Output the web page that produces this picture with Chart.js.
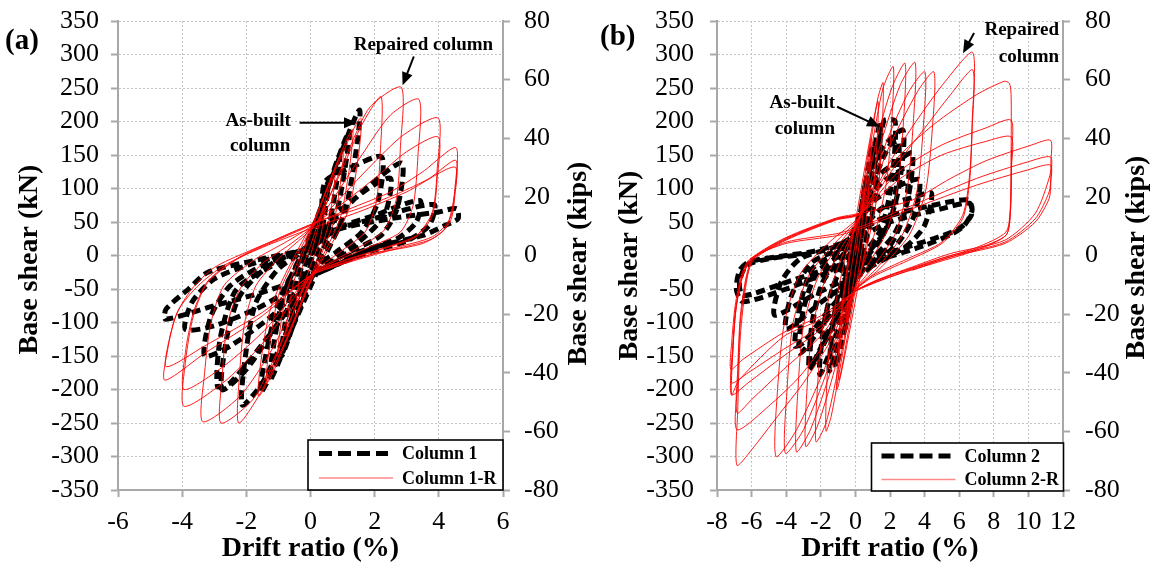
<!DOCTYPE html>
<html><head><meta charset="utf-8">
<script src="https://cdn.jsdelivr.net/npm/chart.js@4.4.1/dist/chart.umd.min.js"></script>
<style>html,body{margin:0;padding:0;background:#fff}#wrap{position:relative;width:1160px;height:571px;overflow:hidden;background:#fff}canvas{position:absolute;top:0}</style>
</head><body><div id="wrap"><canvas id="ca" width="600" height="571" style="left:0"></canvas><canvas id="cb" width="580" height="571" style="left:580px"></canvas></div>
<script>
// ---- tick labels ----
const driftTicksA = [-6,-4,-2,0,2,4,6];
const driftTicksB = [-8,-6,-4,-2,0,2,4,6,8,10,12];
const shearTicksKN = [-350,-300,-250,-200,-150,-100,-50,0,50,100,150,200,250,300,350];
const shearTicksKips = [-80,-60,-40,-20,0,20,40,60,80];
const seriesNamesA = ['Column 1','Column 1-R'];
const seriesNamesB = ['Column 2','Column 2-R'];

// ---- series: [drift %, base shear kN] ----
const col1 = [
[0,0],[0.3,60],[0.2,20],[0,-10],[-0.3,-60],[-0.2,-20],[0,10],
[0.55,110],[0.35,35],[0,-15],[-0.6,-110],[-0.4,-35],[0,15],
[0.9,150],[0.6,50],[0.05,-20],[-0.9,-150],[-0.6,-50],[-0.05,20],
[1.2,185],[0.8,60],[0.1,-25],[-1.25,-185],[-0.85,-60],[-0.05,25],
[1.52,217],[1.1,70],[0.2,-25],[-1.55,-205],[-1.0,-70],[0,20],
[0.3,40],[0.45,110],[1.2,130],[2.22,147],[2.1,80],[1.6,35],[0.8,5],[0,-25],
[-0.8,-120],[-1.5,-190],[-2.13,-223],[-2.0,-140],[-1.7,-70],[-1.0,-20],[0,15],
[0.4,45],[1.8,100],[2.5,115],[2.3,60],[1.5,20],[0.2,-25],
[-1.3,-120],[-2.5,-190],[-2.9,-195],[-2.8,-120],[-2.3,-50],[-1.0,-10],[0,15],
[0.5,40],[1.5,90],[2.84,138],[2.7,70],[2.2,30],[1.2,5],[0.2,-25],
[-1.0,-100],[-2.0,-170],[-2.76,-200],[-2.6,-120],[-2.2,-60],[-1.3,-15],[0,15],
[0.5,35],[2.0,60],[3.41,82],[3.3,50],[2.7,25],[1.5,5],[0.2,-25],
[-1.2,-90],[-2.5,-135],[-3.3,-150],[-3.1,-90],[-2.5,-45],[-1.5,-15],[0,12],
[0.6,35],[2.2,58],[3.85,76],[3.7,45],[3.0,22],[1.8,5],[0.3,-25],
[-1.5,-75],[-3.0,-105],[-3.9,-110],[-3.7,-70],[-3.0,-35],[-1.8,-12],[0,12],
[0.8,38],[2.5,55],[4.0,65],[4.55,70],[4.6,55],[4.2,45],[3.5,30],[2.0,12],[0.3,-25],
[-1.5,-55],[-3.0,-75],[-4.52,-95],[-4.5,-80],[-3.8,-50],[-3.2,-25],[-1.8,-8],[0,10]
];
const col1R = [
[0,0],[0.45,75],[0.3,25],[0,-15],[-0.45,-75],[-0.3,-25],[0,15],
[0.75,120],[0.55,45],[0.1,-20],[-0.75,-120],[-0.55,-45],[-0.1,20],
[1.0,155],[0.75,55],[0.1,-25],[-1.0,-150],[-0.75,-55],[-0.1,25],
[1.3,188],[0.95,60],[0.1,-28],[-1.35,-190],[-1.0,-60],[-0.1,30],
[1.55,205],[1.2,70],[0.1,-30],[-1.6,-210],[-1.25,-80],[-0.1,35],
[0.2,50],[1.0,130],[1.6,195],[2.2,237],[2.17,150],[2.05,80],[1.7,35],[1.0,8],[0,-30],
[-0.9,-130],[-1.5,-200],[-2.24,-250],[-2.2,-170],[-2.05,-100],[-1.7,-45],[-1.0,-5],[0.2,50],
[1.23,162],[1.86,222],[2.83,251],[2.8,160],[2.68,85],[2.3,38],[1.5,12],[0.7,-8],[0,-30],
[-1.1,-150],[-1.8,-215],[-2.79,-250],[-2.75,-180],[-2.6,-105],[-2.2,-50],[-1.5,-12],[-0.6,18],[0.2,50],
[1.6,150],[2.5,210],[3.38,233],[3.35,150],[3.2,75],[2.8,35],[1.8,12],[0.8,-8],[0,-30],
[-1.2,-140],[-2.2,-210],[-3.36,-248],[-3.3,-175],[-3.1,-100],[-2.7,-45],[-1.8,-8],[-0.7,22],[0.2,50],
[1.8,130],[2.9,180],[3.98,205],[3.95,130],[3.8,65],[3.3,30],[2.2,10],[1.0,-8],[0,-30],
[-1.3,-120],[-2.6,-185],[-3.94,-225],[-3.9,-160],[-3.65,-90],[-3.2,-40],[-2.2,-3],[-0.8,28],[0.2,50],
[2.0,115],[3.0,155],[3.98,177],[3.95,115],[3.8,60],[3.3,28],[2.2,9],[1.0,-9],[0,-30],
[-1.4,-110],[-2.7,-165],[-3.94,-200],[-3.9,-145],[-3.65,-85],[-3.2,-38],[-2.2,-2],[-0.8,30],[0.2,50],
[1.5,75],[2.5,95],[3.5,125],[4.53,161],[4.5,100],[4.35,55],[3.8,28],[2.5,10],[1.2,-8],[0,-30],
[-1.5,-90],[-3.3,-146],[-4.54,-186],[-4.45,-140],[-4.2,-90],[-3.7,-50],[-3.0,-18],[-2.0,5],[-1.0,25],[0.2,50],
[1.5,70],[2.7,92],[3.7,115],[4.53,142],[4.5,90],[4.35,50],[3.8,25],[2.5,8],[1.2,-10],[0,-30],
[-1.5,-85],[-3.3,-135],[-4.49,-166],[-4.4,-125],[-4.1,-80],[-3.5,-45],[-2.7,-15],[-1.5,12],[0,40],
[1.5,65],[3.0,95],[4.5,132],[4.45,80],[4.2,40],[3.5,18],[2.0,3],[0.5,-20]
];
const col2 = [
[0,0],[0.3,60],[0.2,20],[0,-15],[-0.3,-60],[-0.2,-20],[0,15],
[0.6,110],[0.4,40],[0,-20],[-0.6,-110],[-0.4,-40],[0,20],
[1.0,165],[0.7,60],[0,-30],[-1.12,-166],[-0.8,-60],[0,20],
[1.45,200],[1.2,100],[0.8,40],[0,-30],[-1.5,-172],[-1.1,-70],[0,20],
[1.5,185],[1.7,202],[2.3,200],[2.1,110],[1.5,40],[0.5,0],[-1.0,-110],[-2.06,-178],[-1.8,-100],[-1.2,-40],[0,20],
[1.3,150],[2.75,187],[2.5,100],[1.8,40],[0.5,-5],[-1.5,-110],[-2.6,-165],[-2.4,-90],[-1.7,-30],[0,18],
[1.2,120],[2.0,165],[2.5,170],[2.3,90],[1.6,30],[0.3,-15],[-1.2,-100],[-2.4,-160],[-2.7,-170],[-2.5,-100],[-1.9,-40],[-0.5,10],
[1.0,110],[2.4,140],[3.3,153],[3.0,80],[2.2,30],[0.8,-10],[-1.5,-90],[-3.22,-146],[-3.0,-80],[-2.2,-25],[-0.5,10],
[1.2,100],[2.8,130],[3.1,128],[2.8,60],[2.0,15],[0.5,-20],[-1.8,-90],[-3.0,-130],[-3.5,-135],[-3.2,-75],[-2.5,-20],[-0.8,10],
[1.0,80],[2.6,105],[3.7,113],[3.4,60],[2.5,20],[1.0,-15],[-2.0,-70],[-4.0,-110],[-3.7,-60],[-2.5,-10],[-0.5,15],
[1.5,70],[3.5,88],[4.4,93],[4.0,45],[3.0,15],[1.0,-15],[-2.5,-60],[-4.67,-89],[-4.3,-40],[-3.2,-5],[-1.0,15],
[1.5,55],[4.5,75],[6.5,83],[6.75,68],[6.3,45],[5.64,33],[4.0,15],[1.5,-5],[-1.5,-25],[-4.0,-50],[-6.5,-69],[-6.88,-51],[-6.69,-22],[-6.11,-9],[-4.0,0],[-2.45,6],[0,25],
[2.0,50],[5.0,70],[6.6,78],[6.7,60],[6.0,40],[4.5,25],[2.0,5],[-1.0,-15],[-4.0,-40],[-6.5,-60],[-6.7,-40],[-6.3,-15],[-5.0,-5],[-2.5,3]
];
const col2R = [
[0,0],[0.5,100],[0.35,40],[0,-20],[-0.5,-100],[-0.35,-40],[0,20],
[0.9,175],[0.65,60],[0.1,-35],[-0.95,-186],[-0.7,-70],[-0.1,35],
[1.3,230],[1.0,80],[0.2,-40],[-1.06,-200],[-0.8,-80],[-0.1,40],
[0.3,60],[0.9,170],[1.3,235],[1.6,258],[1.55,190],[1.35,105],[0.9,40],[0.4,-15],[-0.1,-55],
[-0.9,-170],[-1.4,-240],[-1.7,-262],[-1.65,-190],[-1.4,-110],[-0.9,-40],[-0.4,15],[0.3,60],
[1.0,170],[1.6,250],[2.19,282],[2.1,200],[1.8,110],[1.2,40],[0.5,-10],[-0.1,-55],
[-1.0,-170],[-1.7,-250],[-2.28,-278],[-2.2,-200],[-1.9,-110],[-1.3,-40],[-0.6,10],[0.3,60],
[1.2,170],[2.1,250],[2.87,287],[2.78,200],[2.45,105],[1.8,35],[0.7,-15],[-0.1,-55],
[-1.2,-170],[-2.2,-255],[-2.87,-285],[-2.8,-200],[-2.5,-110],[-1.8,-40],[-0.8,12],[0.3,60],
[1.5,170],[2.6,255],[3.45,288],[3.35,200],[3.0,100],[2.3,32],[1.0,-18],[-0.1,-55],
[-1.4,-170],[-2.6,-260],[-3.41,-293],[-3.32,-200],[-3.0,-105],[-2.2,-35],[-1.0,15],[0.3,60],
[1.8,170],[3.1,245],[4.02,274],[3.92,190],[3.55,95],[2.7,30],[1.2,-20],[-0.1,-55],
[-1.6,-170],[-3.0,-260],[-4.05,-295],[-3.95,-200],[-3.6,-100],[-2.7,-30],[-1.2,18],[0.3,60],
[2.0,165],[3.6,245],[4.54,274],[4.45,190],[4.05,95],[3.1,30],[1.4,-20],[-0.1,-55],
[-1.8,-170],[-3.4,-260],[-4.59,-300],[-4.5,-200],[-4.1,-100],[-3.2,-28],[-1.5,20],[0.3,60],
[2.0,140],[3.5,200],[5.2,260],[6.78,303],[6.75,200],[6.6,120],[6.2,60],[5.0,20],[3.0,-5],[1.0,-30],[-0.1,-55],
[-1.5,-130],[-3.0,-190],[-4.5,-240],[-6.0,-290],[-6.85,-313],[-6.8,-230],[-6.65,-120],[-6.3,-40],[-5.9,-7],[-4.0,23],[-1.1,53],[0.3,62],
[2.2,130],[4.0,190],[5.5,240],[6.78,277],[6.75,190],[6.6,110],[6.2,55],[5.0,18],[3.0,-8],[1.0,-32],[-0.1,-55],
[-1.6,-125],[-3.2,-180],[-4.8,-220],[-6.84,-260],[-6.8,-190],[-6.65,-100],[-6.3,-35],[-5.9,-5],[-4.0,24],[-1.1,54],[0.3,63],
[2.3,142],[4.5,195],[7.0,240],[8.6,260],[8.9,257],[9.0,240],[9.0,150],[8.95,60],[8.7,30],[7.0,10],[4.5,-10],[2.0,-30],[-0.1,-55],
[-2.0,-120],[-4.15,-170],[-6.0,-215],[-6.84,-235],[-6.8,-170],[-6.65,-90],[-6.3,-30],[-5.9,-4],[-4.0,25],[-1.1,55],[0.3,63],
[2.5,125],[5.0,165],[7.5,190],[9.0,202],[9.02,150],[8.95,70],[8.7,35],[7.0,12],[4.5,-8],[2.0,-30],[-0.1,-55],
[-2.0,-110],[-4.15,-150],[-6.2,-190],[-7.17,-208],[-7.1,-150],[-6.9,-80],[-6.5,-30],[-5.9,-3],[-4.0,26],[-1.1,55],[0.3,63],
[2.6,115],[5.0,150],[7.5,170],[9.0,177],[9.02,130],[8.95,60],[8.7,30],[7.0,8],[4.5,-12],[2.0,-32],[-0.1,-55],
[-2.0,-105],[-4.15,-140],[-6.2,-175],[-7.15,-190],[-7.1,-140],[-6.9,-75],[-6.5,-28],[-5.9,-2],[-4.0,27],[-1.1,56],[0.3,63],
[3.3,83],[5.5,115],[7.6,142],[10.2,165],[11.28,172],[11.3,140],[11.25,120],[10.4,63],[8.65,23],[5.5,3],[3.3,-17],[1.2,-37],[-0.1,-55],
[-2.0,-95],[-4.15,-121],[-6.73,-186],[-7.15,-208],[-7.12,-160],[-6.95,-90],[-6.6,-35],[-6.1,-7],[-4.0,20],[-1.0,33],[0.5,45],
[3.3,75],[7.0,115],[10.0,140],[11.28,147],[11.3,120],[11.2,95],[10.4,55],[8.65,20],[5.5,0],[3.3,-20],[1.2,-40],[-0.1,-55],
[-2.0,-90],[-4.15,-115],[-6.5,-155],[-7.2,-170],[-7.15,-130],[-6.95,-75],[-6.6,-30],[-6.1,-5],[-4.0,18],[-1.0,30],[0.5,42],
[3.3,70],[7.0,105],[10.0,128],[11.28,135],[11.3,110],[11.2,85],[10.4,50],[8.65,18],[5.5,-2],[3.3,-22]
];

Chart.defaults.font.family = "'Liberation Serif','Times New Roman',serif";
Chart.defaults.color = '#000';
const GRID = '#c4c4c4', AXIS = '#a8a8a8', RED = 'rgba(255,0,0,0.9)';
const SERIF = "'Liberation Serif','Times New Roman',serif";

function toXY(a){ return a.map(p => ({x:p[0], y:p[1]})); }
function fixedTicks(arr){ return s => { s.ticks = arr.map(v => ({value:v})); }; }
function fixW(w){ return s => { s.width = w; s.paddingTop = 0; s.paddingBottom = 0; }; }
function fixH(h){ return s => { s.height = h; s.paddingLeft = 0; s.paddingRight = 0; }; }

function makeScales(xT, g){
  const gridOpt = {color:GRID, lineWidth:1, tickLength:7, tickColor:AXIS, tickWidth:2, tickBorderDash:[]};
  const borderOpt = {display:true, color:AXIS, width:2, dash:[2,2]};
  return {
    x:{type:'linear', position:'bottom', min:xT[0], max:xT[xT.length-1], afterBuildTicks:fixedTicks(xT),
       afterFit:fixH(g.bottom),
       ticks:{font:{size:26}, padding:g.xpad, autoSkip:false, maxRotation:0, callback:v=>String(v)},
       grid:gridOpt, border:borderOpt},
    y:{type:'linear', position:'left', min:shearTicksKN[0], max:shearTicksKN[shearTicksKN.length-1], afterBuildTicks:fixedTicks(shearTicksKN),
       afterFit:fixW(g.left),
       ticks:{font:{size:26}, padding:g.lpad, autoSkip:false, callback:v=>String(v)},
       grid:gridOpt, border:borderOpt},
    y2:{type:'linear', position:'right', min:shearTicksKips[0], max:shearTicksKips[shearTicksKips.length-1], afterBuildTicks:fixedTicks(shearTicksKips),
       afterFit:fixW(g.right),
       ticks:{font:{size:26}, padding:g.rpad, autoSkip:false, callback:v=>String(v)},
       grid:{drawOnChartArea:false, tickLength:7, tickColor:AXIS, tickWidth:2, tickBorderDash:[]},
       border:{display:true, color:AXIS, width:2}}
  };
}

function arrow(ctx,x1,y1,x2,y2){
  const a = Math.atan2(y2-y1,x2-x1), L=13, W=5.5;
  ctx.save(); ctx.strokeStyle='#000'; ctx.fillStyle='#000'; ctx.lineWidth=2;
  ctx.beginPath(); ctx.moveTo(x1,y1); ctx.lineTo(x2-L*0.8*Math.cos(a), y2-L*0.8*Math.sin(a)); ctx.stroke();
  ctx.beginPath(); ctx.moveTo(x2,y2);
  ctx.lineTo(x2-L*Math.cos(a)+W*Math.sin(a), y2-L*Math.sin(a)-W*Math.cos(a));
  ctx.lineTo(x2-L*Math.cos(a)-W*Math.sin(a), y2-L*Math.sin(a)+W*Math.cos(a));
  ctx.closePath(); ctx.fill(); ctx.restore();
}

function extras(c){
  return {id:'extras', afterDraw(chart){
    const ctx = chart.ctx, ca = chart.chartArea, sx = chart.scales.x, sy = chart.scales.y;
    const X = v => sx.getPixelForValue(v), Y = v => sy.getPixelForValue(v);
    ctx.save();
    ctx.fillStyle = '#000';
    ctx.font = 'bold 28px ' + SERIF; ctx.textAlign='center'; ctx.textBaseline='middle';
    ctx.fillText('Drift ratio (%)', (ca.left+ca.right)/2, c.xTitleY);
    const mid = (ca.top+ca.bottom)/2;
    [[c.lTitleX,c.lTitleDy,'Base shear (kN)'],[c.rTitleX,c.rTitleDy,'Base shear (kips)']].forEach(([tx,dy,t])=>{
      ctx.save(); ctx.translate(tx, mid+dy); ctx.rotate(-Math.PI/2); ctx.fillText(t,0,0); ctx.restore();
    });
    ctx.font = 'bold 29px ' + SERIF; ctx.textAlign='left';
    ctx.fillText(c.label, c.labelX, c.labelY);
    ctx.font = 'bold 19px ' + SERIF;
    c.notes.forEach(n=>{ ctx.textAlign=n.align; ctx.fillText(n.text, X(n.x), Y(n.y)); });
    c.arrows.forEach(a=>arrow(ctx, X(a[0]),Y(a[1]),X(a[2]),Y(a[3])));
    const L = c.legend, bx = ca.right + L.dx - L.w, by = ca.bottom + L.dy - L.h;
    ctx.fillStyle='#fff'; ctx.fillRect(bx,by,L.w,L.h);
    ctx.strokeStyle='#000'; ctx.lineWidth=1.6; ctx.strokeRect(bx,by,L.w,L.h);
    const r1 = by + L.h*0.27, r2 = by + L.h*0.76;
    ctx.save(); ctx.strokeStyle='#000'; ctx.lineWidth=5; ctx.setLineDash([13,6]);
    ctx.beginPath(); ctx.moveTo(bx+L.l1, r1); ctx.lineTo(bx+L.l2, r1); ctx.stroke(); ctx.restore();
    ctx.save(); ctx.strokeStyle='#ff8a8a'; ctx.lineWidth=1.6;
    ctx.beginPath(); ctx.moveTo(bx+L.l1, r2); ctx.lineTo(bx+L.l2+5, r2); ctx.stroke(); ctx.restore();
    ctx.fillStyle='#000'; ctx.font='bold 18px ' + SERIF; ctx.textAlign='left'; ctx.textBaseline='middle';
    ctx.fillText(c.names[0], bx+L.tx, r1+1); ctx.fillText(c.names[1], bx+L.tx, r2+1);
    ctx.restore();
  }};
}

function build(id, red, black, xT, g, c){
  return new Chart(document.getElementById(id), {
    type:'scatter',
    data:{datasets:[
      {label:c.names[1], data:toXY(red), showLine:true, borderColor:RED, borderWidth:1, pointRadius:0, tension:0.25, fill:false, order:0},
      {label:c.names[0], data:toXY(black), showLine:true, borderColor:'#000', borderWidth:5, borderDash:[9,5], pointRadius:0, tension:0.25, fill:false, order:1}
    ]},
    options:{responsive:false, animation:false, devicePixelRatio:1,
      layout:{padding:{top:g.top, left:0, right:0, bottom:0}},
      plugins:{legend:{display:false}, tooltip:{enabled:false}},
      scales:makeScales(xT, g)},
    plugins:[extras(c)]
  });
}

build('ca', col1R, col1, driftTicksA,
  {left:118, right:97, bottom:81, top:21, xpad:10, lpad:12, rpad:14},
  {names:seriesNamesA, xTitleY:549, lTitleX:30, lTitleDy:4, rTitleX:579, rTitleDy:8, label:'(a)', labelX:5, labelY:42,
   notes:[{text:'Repaired column', x:3.52, y:314, align:'center'},
          {text:'As-built', x:-1.63, y:200, align:'center'},
          {text:'column', x:-1.57, y:163, align:'center'}],
   arrows:[[3.22,297,2.87,254],[-0.34,198,1.45,198]],
   legend:{w:195, h:50, dx:0, dy:0, l1:11, l2:80, tx:94}});

build('cb', col2R, col2, driftTicksB,
  {left:137, right:97, bottom:81, top:21, xpad:10, lpad:16, rpad:15},
  {names:seriesNamesB, xTitleY:549, lTitleX:50, lTitleDy:10, rTitleX:557, rTitleDy:2, label:'(b)', labelX:20, labelY:38,
   notes:[{text:'Repaired', x:11.77, y:336, align:'right'},
          {text:'column', x:11.77, y:296, align:'right'},
          {text:'As-built', x:-1.18, y:228, align:'right'},
          {text:'column', x:-1.18, y:188, align:'right'}],
   arrows:[[6.86,332,6.22,302],[-1.06,222,1.42,192]],
   legend:{w:192, h:48, dx:0.5, dy:1, l1:10, l2:79, tx:93}});
</script></body></html>
